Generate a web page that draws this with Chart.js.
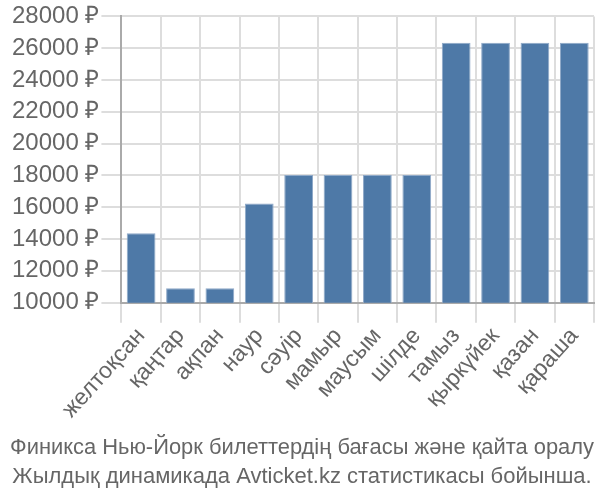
<!DOCTYPE html>
<html lang="kk">
<head>
  <meta charset="UTF-8">
  <title>Финикса Нью-Йорк</title>
  <script src="https://cdn.jsdelivr.net/npm/chart.js"></script>
  <style>
    html, body { margin: 0; padding: 0; background: #fff; }
    #wrap { width: 600px; height: 500px; }
  </style>
</head>
<body>
  <div id="wrap"><canvas id="chart"></canvas></div>

  <script>
    const months = ['желтоқсан', 'қаңтар', 'ақпан', 'наур', 'сәуір', 'мамыр', 'маусым', 'шілде', 'тамыз', 'қыркүйек', 'қазан', 'қараша'];
    const prices = [14370, 10900, 10900, 16230, 18030, 18030, 18030, 18030, 26350, 26350, 26350, 26350];
    const titleLines = ['Финикса Нью-Йорк билеттердің бағасы және қайта оралу', 'Жылдық динамикада Avticket.kz статистикасы бойынша.'];

    const font = 'Liberation Sans, Arial, sans-serif';

    const ctx = document.getElementById('chart').getContext('2d');
    const chart = new Chart(ctx, {
      type: 'bar',
      data: {
        labels: months,
        datasets: [{
          data: prices,
          backgroundColor: '#4e79a7',
          borderColor: '#8fa9c8',
          borderWidth: 1,
          barPercentage: 0.73,
          categoryPercentage: 1
        }]
      },
      options: {
        responsive: true,
        maintainAspectRatio: false,
        animation: false,
        layout: { padding: { left: 10, right: 6, top: 4, bottom: 0 } },
        plugins: {
          legend: { display: false },
          tooltip: { enabled: false },
          title: {
            display: true,
            position: 'bottom',
            text: titleLines,
            color: '#666',
            font: { family: font, size: 22, weight: 'normal', lineHeight: 1.35 },
            padding: { top: 9, bottom: 8 }
          }
        },
        scales: {
          x: {
            grid: { color: '#ddd', lineWidth: 2, tickLength: 20, offset: true },
            border: { color: '#aaa', width: 2 },
            ticks: {
              autoSkip: false,
              color: '#666',
              font: { family: font, size: 23 },
              maxRotation: 48,
              minRotation: 48,
              padding: 0
            }
          },
          y: {
            min: 10000,
            max: 28000,
            grid: { color: '#ddd', lineWidth: 2, tickLength: 20 },
            border: { color: '#aaa', width: 2 },
            ticks: {
              stepSize: 2000,
              color: '#666',
              font: { family: font, size: 24 },
              padding: 2,
              callback: v => v + ' ₽'
            }
          }
        }
      }
    });
  </script>
</body>
</html>
